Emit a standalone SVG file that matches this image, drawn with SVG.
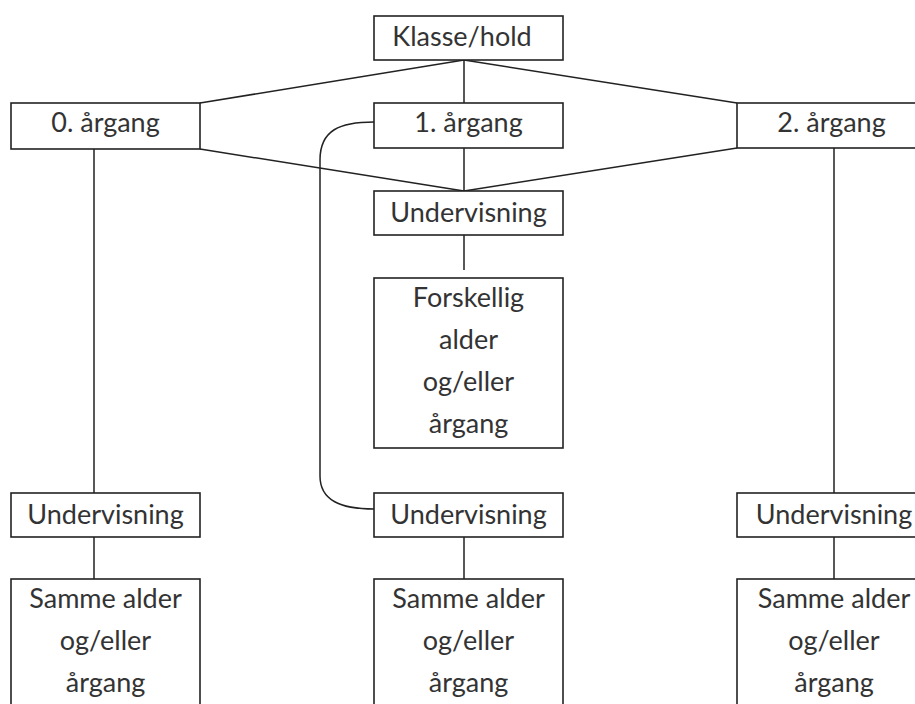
<svg xmlns="http://www.w3.org/2000/svg" width="915" height="704" viewBox="0 0 915 704">
<style>
.box{fill:#fff;stroke:#222;stroke-width:1.6}
.t{font-family:Lato,"Liberation Sans",sans-serif;font-size:27px;fill:#333;text-anchor:middle}
.c{fill:none;stroke:#222;stroke-width:1.5}
</style>
<rect width="915" height="704" fill="#fff"/>
<g id="connectors">
<path class="c" d="M464,60 L200,103 M464,60 L737,103 M464,60 V103 M464,148 V191 M200,149 L464,191 M737,148 L464,191 M464,235 V270"/>
<path class="c" d="M94,149 V493 M94,537 V579 M834,148 V493 M834,537 V579 M464,537 V579"/>
<path class="c" d="M374,122 C340,122 320,130 320,160 V476 C320,500 340,509 374,509"/>
</g>
<g id="klasse"><rect class="box" x="374" y="16" width="189" height="44"/><text class="t" x="462" y="46">Klasse/hold</text></g>
<g id="aargang0"><rect class="box" x="11" y="103" width="189" height="46"/><text class="t" x="105.5" y="132">0. årgang</text></g>
<g id="aargang1"><rect class="box" x="374" y="103" width="189" height="45"/><text class="t" x="468.5" y="132">1. årgang</text></g>
<g id="aargang2"><rect class="box" x="737" y="103" width="189" height="45"/><text class="t" x="831.5" y="132">2. årgang</text></g>
<g id="undervisning1"><rect class="box" x="374" y="191" width="189" height="44"/><text class="t" x="468.5" y="222">Undervisning</text></g>
<g id="forskellig"><rect class="box" x="374" y="278" width="189" height="170"/>
<text class="t" x="468.5" y="307">Forskellig</text><text class="t" x="468.5" y="349">alder</text><text class="t" x="468.5" y="391">og/eller</text><text class="t" x="468.5" y="433">årgang</text></g>
<g id="undervisning0"><rect class="box" x="11" y="493" width="189" height="44"/><text class="t" x="105.5" y="524">Undervisning</text></g>
<g id="undervisning1b"><rect class="box" x="374" y="493" width="189" height="44"/><text class="t" x="468.5" y="524">Undervisning</text></g>
<g id="undervisning2"><rect class="box" x="737" y="493" width="189" height="44"/><text class="t" x="834" y="524">Undervisning</text></g>
<g id="samme0"><rect class="box" x="11" y="579" width="189" height="140"/>
<text class="t" x="105.5" y="608">Samme alder</text><text class="t" x="105.5" y="650">og/eller</text><text class="t" x="105.5" y="692">årgang</text></g>
<g id="samme1"><rect class="box" x="374" y="579" width="189" height="140"/>
<text class="t" x="468.5" y="608">Samme alder</text><text class="t" x="468.5" y="650">og/eller</text><text class="t" x="468.5" y="692">årgang</text></g>
<g id="samme2"><rect class="box" x="737" y="579" width="189" height="140"/>
<text class="t" x="834" y="608">Samme alder</text><text class="t" x="834" y="650">og/eller</text><text class="t" x="834" y="692">årgang</text></g>
</svg>
